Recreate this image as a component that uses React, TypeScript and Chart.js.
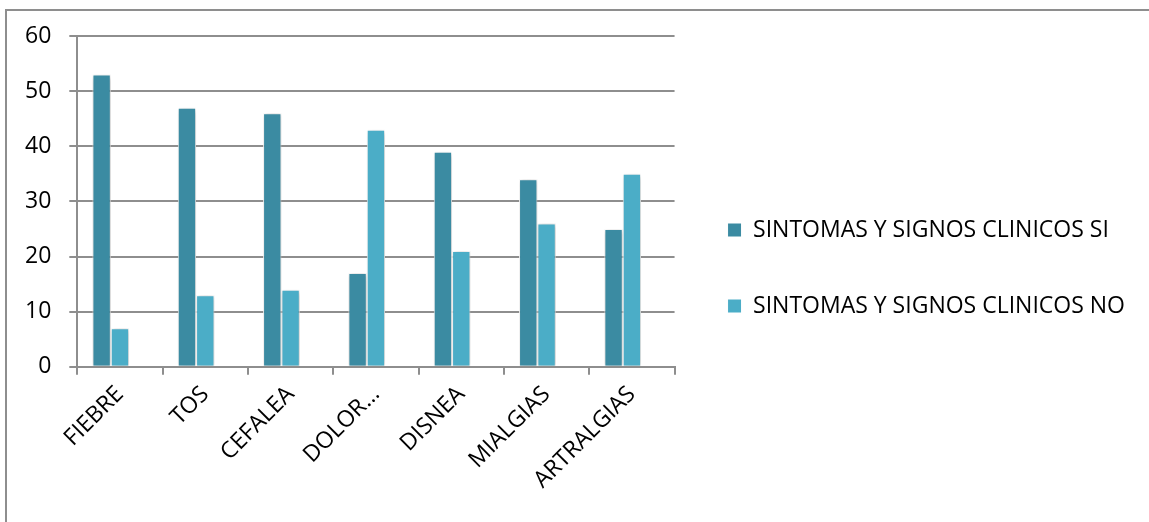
import React, { useEffect, useRef } from "react";
import { Chart, registerables } from "chart.js";

Chart.register(...registerables);

const categories = ["FIEBRE", "TOS", "CEFALEA", "DOLOR…", "DISNEA", "MIALGIAS", "ARTRALGIAS"];
const seriesSi = [53, 47, 46, 17, 39, 34, 25];
const seriesNo = [7, 13, 14, 43, 21, 26, 35];
const spacer = [null, null, null, null, null, null, null];
const labelSi = "SINTOMAS Y SIGNOS CLINICOS SI";
const labelNo = "SINTOMAS Y SIGNOS CLINICOS NO";
const yTicks = [0, 10, 20, 30, 40, 50, 60];

const shadowPlugin = {
  id: "barShadow",
  beforeDatasetsDraw(chart: any) {
    const ctx = chart.ctx;
    ctx.save();
    ctx.shadowColor = "rgba(0,0,0,0.28)";
    ctx.shadowBlur = 5;
    ctx.shadowOffsetX = 1;
    ctx.shadowOffsetY = 1;
  },
  afterDatasetsDraw(chart: any) {
    chart.ctx.restore();
  },
};

export default function App() {
  const ref = useRef<HTMLCanvasElement | null>(null);
  useEffect(() => {
    document.body.style.margin = "0";
    const font = "'Open Sans', sans-serif";
    const chart = new Chart(ref.current as HTMLCanvasElement, {
      type: "bar",
      data: {
        labels: categories,
        datasets: [
          {
            label: labelSi,
            data: seriesSi,
            backgroundColor: "#3B8BA2",
            borderColor: "#ffffff",
            borderWidth: 1,
          },
          {
            label: labelNo,
            data: seriesNo,
            backgroundColor: "#4BADC7",
            borderColor: "#ffffff",
            borderWidth: 1,
          },
          {
            label: "",
            data: spacer as any,
            backgroundColor: "rgba(0,0,0,0)",
          },
        ],
      },
      options: {
        animation: false,
        responsive: false,
        maintainAspectRatio: false,
        layout: { padding: { left: 0, top: 32, bottom: 22, right: 0 } },
        datasets: { bar: { categoryPercentage: 0.645, barPercentage: 1 } },
        plugins: {
          tooltip: { enabled: false },
          legend: {
            position: "right",
            maxWidth: 600,
            labels: {
              boxWidth: 14,
              boxHeight: 14,
              padding: 53,
              color: "#000",
              font: { family: font, size: 23 },
              filter: (item: any) => item.text !== "",
            },
          },
        },
        scales: {
          x: {
            grid: {
              display: true,
              drawOnChartArea: false,
              drawTicks: true,
              tickLength: 8,
              color: "#8e8e8e",
              lineWidth: 2,
            },
            border: { color: "#8e8e8e", width: 2 },
            ticks: {
              color: "#000",
              font: { family: font, size: 23 },
              minRotation: 45,
              maxRotation: 45,
              padding: 6,
            },
          },
          y: {
            min: 0,
            max: 60,
            afterBuildTicks: (axis: any) => {
              axis.ticks = yTicks.map((v) => ({ value: v }));
            },
            grid: { color: "#8e8e8e", lineWidth: 2, tickLength: 8 },
            border: { color: "#8e8e8e", width: 2 },
            ticks: {
              color: "#000",
              font: { family: font, size: 23 },
              padding: 18,
            },
          },
        },
      },
      plugins: [shadowPlugin],
    });
    return () => chart.destroy();
  }, []);
  return (
    <div
      style={{
        position: "absolute",
        left: 5,
        top: 9,
        width: 1160,
        height: 530,
        border: "2px solid #8e8e8e",
        overflow: "hidden",
        background: "#fff",
      }}
    >
      <canvas
        ref={ref}
        width={1128}
        height={518}
        style={{ display: "block", position: "relative", top: -7 }}
      />
    </div>
  );
}
